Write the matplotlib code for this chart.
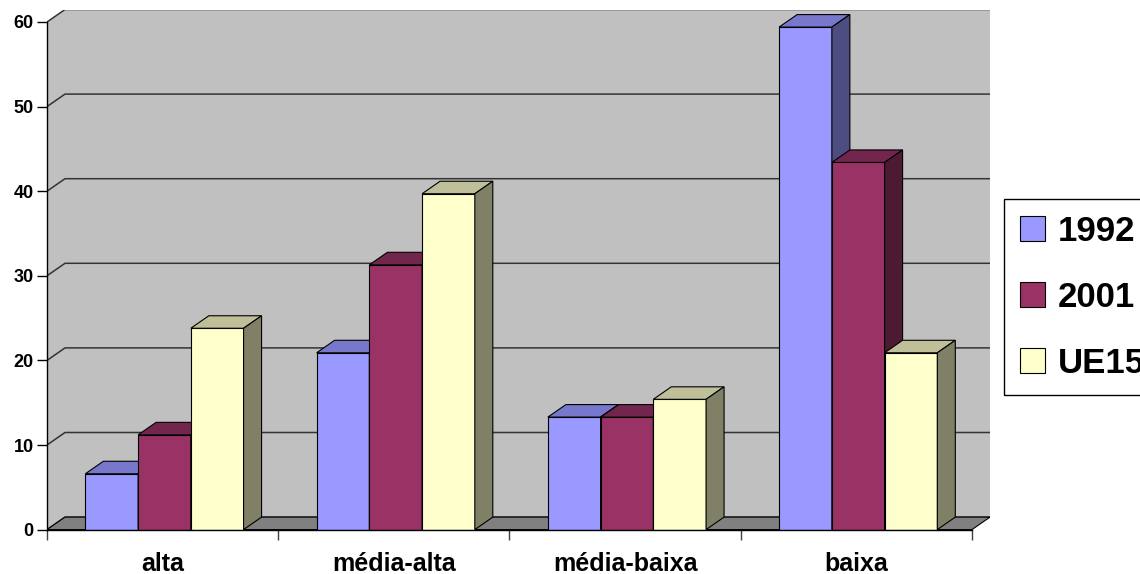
import matplotlib
matplotlib.use("Agg")
import matplotlib.pyplot as plt
from matplotlib.patches import Polygon, Patch

# ── data ────────────────────────────────────────────────────────────────
CATS = ["alta", "média-alta", "média-baixa", "baixa"]
SERIES = ["1992", "2001", "UE15"]
V1992 = [6.6, 20.9, 13.3, 59.4]
V2001 = [11.2, 31.3, 13.3, 43.4]
VUE15 = [23.8, 39.7, 15.4, 20.9]
YTICKS = [0, 10, 20, 30, 40, 50, 60]

# front / top / side shades per series (Excel 3D look)
FRONT = ["#9999FF", "#993366", "#FFFFCC"]
TOP = ["#7777CC", "#73264D", "#BFBF99"]
SIDE = ["#4D4D80", "#4D1A33", "#808066"]

plt.rcParams["font.family"] = ["Liberation Sans", "DejaVu Sans"]
plt.rcParams["font.weight"] = "bold"

W, H = 1140, 574
fig = plt.figure(figsize=(W / 100, H / 100), dpi=100)
# axes box in pixels: front-left axis -> back-right wall
px0, px1, pybot, pytop = 47, 990, 529.6, 9.5
ax = fig.add_axes([px0 / W, 1 - pybot / H, (px1 - px0) / W, (pybot - pytop) / H])
ax.patch.set_visible(False)

NC = len(CATS)
YMAX = YTICKS[-1]
DX = 18 / 231.25      # depth, in category units
DY = 12.5 / 8.46      # depth, in value units
ax.set_xlim(0, NC + DX)
ax.set_ylim(0, YMAX + DY)

WALL, FLOOR, GRID = "#C0C0C0", "#808080", "#333333"
# side + back walls
ax.add_patch(Polygon([(0, 0), (DX, DY), (DX, YMAX + DY), (0, YMAX)],
                     closed=True, fc=WALL, ec="none", zorder=0.5))
ax.add_patch(Polygon([(DX, DY), (NC + DX, DY), (NC + DX, YMAX + DY), (DX, YMAX + DY)],
                     closed=True, fc=WALL, ec="none", zorder=0.5))
for t in YTICKS:
    ax.plot([0, DX, NC + DX], [t + 0, t + DY, t + DY], color=GRID, lw=1.1, zorder=1)
# floor
ax.add_patch(Polygon([(0, 0), (NC, 0), (NC + DX, DY), (DX, DY)],
                     closed=True, fc=FLOOR, ec="black", lw=0.8, zorder=1.5))

# ── bars ────────────────────────────────────────────────────────────────
bw = 0.228
vals = [V1992, V2001, VUE15]
z = 3
for i in range(NC):
    for j, vs in enumerate(vals):
        v = vs[i]
        xl = i + 0.5 - 1.5 * bw + j * bw + 0.008
        xr = xl + bw
        kw = dict(closed=True, ec="black", lw=0.8, joinstyle="miter")
        ax.add_patch(Polygon([(xl, 0), (xr, 0), (xr, v), (xl, v)], fc=FRONT[j], zorder=z, **kw))
        ax.add_patch(Polygon([(xl, v), (xr, v), (xr + DX, v + DY), (xl + DX, v + DY)],
                             fc=TOP[j], zorder=z + 0.1, **kw))
        ax.add_patch(Polygon([(xr, 0), (xr + DX, DY), (xr + DX, v + DY), (xr, v)],
                             fc=SIDE[j], zorder=z + 0.2, **kw))
        z += 1

# ── axes ────────────────────────────────────────────────────────────────
for s in ("top", "right"):
    ax.spines[s].set_visible(False)
ax.spines["left"].set_bounds(0, YMAX)
ax.spines["bottom"].set_bounds(0, NC)
for s in ("left", "bottom"):
    ax.spines[s].set_color("black")
    ax.spines[s].set_linewidth(1)
    ax.spines[s].set_zorder(50)

ax.set_yticks(YTICKS)
ax.set_yticklabels([str(t) for t in YTICKS])
ax.tick_params(axis="y", length=7.2, width=1, pad=2.5, labelsize=13, colors="black")

ax.set_xticks(range(NC + 1))
ax.set_xticklabels([])
ax.tick_params(axis="x", which="major", length=7.2, width=1, color="#404040")
ax.set_xticks([i + 0.5 for i in range(NC)], minor=True)
ax.set_xticklabels(CATS, minor=True, fontsize=18, fontweight="bold")
ax.tick_params(axis="x", which="minor", length=0, pad=16)

# ── legend ──────────────────────────────────────────────────────────────
handles = [Patch(fc=FRONT[j], ec="black", lw=0.8, label=SERIES[j]) for j in range(3)]
leg = fig.legend(handles=handles, loc="upper left",
                 bbox_to_anchor=(1004 / W, 1 - 199 / H), borderaxespad=0,
                 frameon=True, fancybox=False, edgecolor="black", framealpha=1,
                 prop={"size": 25, "weight": "bold"},
                 handlelength=0.72, handleheight=0.72, handletextpad=0.38,
                 labelspacing=0.95, borderpad=0.45)
leg.get_frame().set_linewidth(1)

fig.savefig("out.png", dpi=100)
